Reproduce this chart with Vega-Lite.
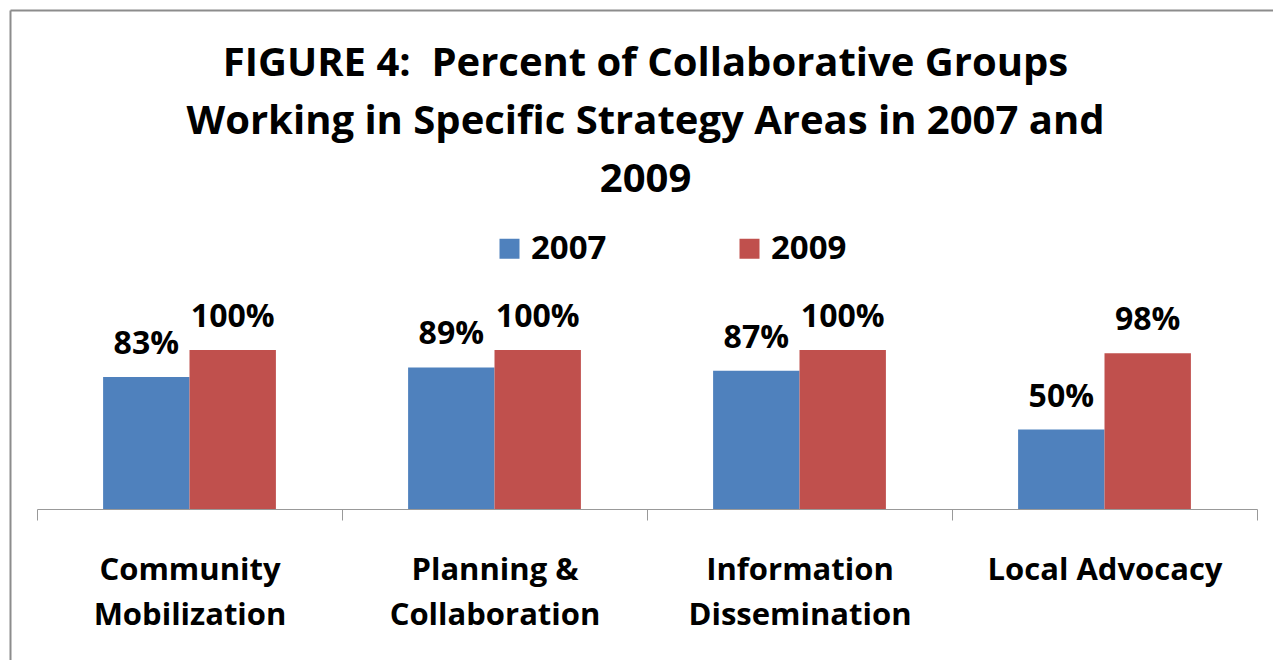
{
  "$schema": "https://vega.github.io/schema/vega-lite/v6.json",
  "width": 1263,
  "height": 650,
  "autosize": {"type": "none"},
  "padding": {"left": 10, "top": 10, "right": 0, "bottom": 0},
  "background": "white",
  "title": {
    "text": ["FIGURE 4:\u00a0 Percent of Collaborative Groups", "Working in Specific Strategy Areas in 2007 and", "2009"],
    "anchor": "middle",
    "frame": "group",
    "orient": "top",
    "offset": -190,
    "dx": 4,
    "font": "Open Sans",
    "fontSize": 40,
    "fontWeight": "bold",
    "color": "#000000",
    "lineHeight": 58
  },
  "data": {
    "values": [
      {"area": "Community Mobilization", "year": "2007", "pct": 0.83, "label": "83%"},
      {"area": "Community Mobilization", "year": "2009", "pct": 1.00, "label": "100%"},
      {"area": "Planning & Collaboration", "year": "2007", "pct": 0.89, "label": "89%"},
      {"area": "Planning & Collaboration", "year": "2009", "pct": 1.00, "label": "100%"},
      {"area": "Information Dissemination", "year": "2007", "pct": 0.87, "label": "87%"},
      {"area": "Information Dissemination", "year": "2009", "pct": 1.00, "label": "100%"},
      {"area": "Local Advocacy", "year": "2007", "pct": 0.50, "label": "50%"},
      {"area": "Local Advocacy", "year": "2009", "pct": 0.98, "label": "98%"}
    ]
  },
  "layer": [
    {
      "encoding": {
        "x": {
          "field": "area",
          "type": "nominal",
          "sort": null,
          "title": null,
          "scale": {"range": [27, 1247], "paddingInner": 0, "paddingOuter": 0},
          "axis": {
            "orient": "bottom",
            "offset": -151,
            "labelAngle": 0,
            "tickBand": "extent",
            "tickSize": 11,
            "tickColor": "#999999",
            "domainColor": "#999999",
            "labelFont": "Open Sans",
            "labelFontSize": 31,
            "labelFontWeight": "bold",
            "labelColor": "#000000",
            "labelPadding": 35,
            "labelLineHeight": 45,
            "labelBaseline": "top",
            "labelLimit": 400,
            "labelExpr": "datum.label == 'Local Advocacy' ? datum.label : [substring(datum.label, 0, lastindexof(datum.label, ' ')), substring(datum.label, lastindexof(datum.label, ' ') + 1)]"
          }
        },
        "xOffset": {
          "field": "year",
          "type": "nominal",
          "scale": {"paddingInner": 0, "paddingOuter": 0.765}
        },
        "y": {
          "field": "pct",
          "type": "quantitative",
          "scale": {"domain": [0, 1], "range": [499, 340], "nice": false, "zero": true},
          "axis": null
        }
      },
      "layer": [
        {
          "mark": {"type": "bar"},
          "encoding": {
            "color": {
              "field": "year",
              "type": "nominal",
              "scale": {"domain": ["2007", "2009"], "range": ["#4F81BD", "#C0504D"]},
              "legend": {
                "title": null,
                "orient": "none",
                "legendX": 483,
                "legendY": 222,
                "direction": "horizontal",
                "symbolType": "square",
                "symbolSize": 400,
                "symbolStrokeWidth": 0,
                "symbolOpacity": 1,
                "labelFont": "Open Sans",
                "labelFontSize": 33,
                "labelFontWeight": "bold",
                "labelColor": "#000000",
                "labelOffset": 5,
                "columnPadding": 126,
                "padding": 0
              }
            }
          }
        },
        {
          "mark": {"type": "text", "font": "Open Sans", "fontSize": 32, "fontWeight": "bold", "color": "#000000", "baseline": "alphabetic", "dy": -23},
          "encoding": {"text": {"field": "label"}}
        }
      ]
    },
    {
      "mark": {"type": "rule", "strokeOpacity": 0},
      "encoding": {
        "x": {
          "datum": 0,
          "type": "quantitative",
          "scale": {"domain": [0, 1], "nice": false},
          "axis": {"orient": "top", "title": null, "labels": false, "ticks": false, "grid": false, "domain": true, "domainColor": "#8c8c8c", "domainWidth": 2}
        },
        "y": {
          "datum": 0,
          "type": "quantitative",
          "scale": {"domain": [0, 1], "nice": false},
          "axis": {"orient": "left", "title": null, "labels": false, "ticks": false, "grid": false, "domain": true, "domainColor": "#8c8c8c", "domainWidth": 2}
        }
      }
    }
  ],
  "resolve": {"scale": {"x": "independent", "y": "independent"}, "axis": {"x": "independent", "y": "independent"}},
  "config": {
    "view": {"stroke": null},
    "axis": {"grid": false}
  }
}
